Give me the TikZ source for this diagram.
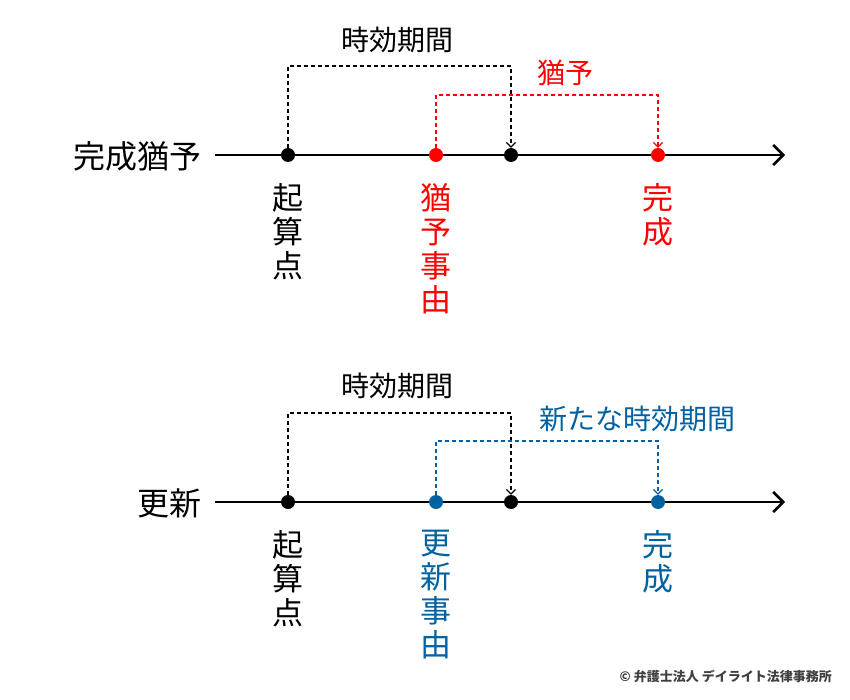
\documentclass[tikz,border=0pt]{standalone}
\usepackage{fontspec}
\setmainfont{Noto Sans CJK JP}
\usetikzlibrary{arrows.meta}
\definecolor{myred}{HTML}{FF0000}
\definecolor{myblue}{HTML}{0062A0}
\begin{document}
\begin{tikzpicture}[x=1pt,y=-1pt,
  axis/.style={line width=2.6pt,-{Straight Barb[length=10pt,width=20pt,line width=2.6pt]}},
  dot/.style={circle,fill,inner sep=0pt,minimum size=14pt},
  br/.style={dash pattern=on 4pt off 3pt,line width=1.2pt,-{Straight Barb[length=4.5pt,width=9pt]}},
  vlab/.style={align=center,font=\fontsize{31}{34}\selectfont,anchor=north,inner sep=0pt},
  hlab/.style={font=\fontsize{28}{30}\selectfont,inner sep=0pt}]
\useasboundingbox (0,0) rectangle (850,700);
% top
\node[anchor=east,font=\fontsize{32}{34}\selectfont,inner sep=0pt] (t1) at (202,156) {完成猶予};
\coordinate (a1s) at (215,155); \coordinate (a1e) at (785,155);
\draw[axis] (a1s) -- (a1e);
\node[dot] (p1) at (288,155) {};
\node[dot,myred] (q1) at (436,155) {};
\node[dot] (r1) at (511,155) {};
\node[dot,myred] (s1) at (658,155) {};
\draw[br] (p1.center) |- (400,66) -| (r1.north);
\draw[br,myred] (q1.center) |- (550,95) -| (s1.north);
\node[hlab] (l1) at (397,40) {時効期間};
\node[hlab,myred] (l2) at (565,73) {猶予};
\node[vlab] (v1) at (288,183) {起\\算\\点};
\node[vlab,myred] (v2) at (436,183) {猶\\予\\事\\由};
\node[vlab,myred] (v3) at (658,183) {完\\成};
% bottom
\node[anchor=east,font=\fontsize{32}{34}\selectfont,inner sep=0pt] (t2) at (202,503) {更新};
\coordinate (a2s) at (215,502); \coordinate (a2e) at (785,502);
\draw[axis] (a2s) -- (a2e);
\node[dot] (p2) at (288,502) {};
\node[dot,myblue] (q2) at (436,502) {};
\node[dot] (r2) at (511,502) {};
\node[dot,myblue] (s2) at (658,502) {};
\draw[br] (p2.center) |- (400,413) -| (r2.north);
\draw[br,myblue] (q2.center) |- (550,441) -| (s2.north);
\node[hlab] (l3) at (397,386) {時効期間};
\node[hlab,myblue] (l4) at (637,419) {新たな時効期間};
\node[vlab] (v4) at (288,530) {起\\算\\点};
\node[vlab,myblue] (v5) at (436,530) {更\\新\\事\\由};
\node[vlab,myblue] (v6) at (658,530) {完\\成};
\node[anchor=east,font=\bfseries\fontsize{13}{15}\selectfont,text=black!75,inner sep=0pt] (c) at (832,676) {© 弁護士法人 デイライト法律事務所};
\end{tikzpicture}
\end{document}
